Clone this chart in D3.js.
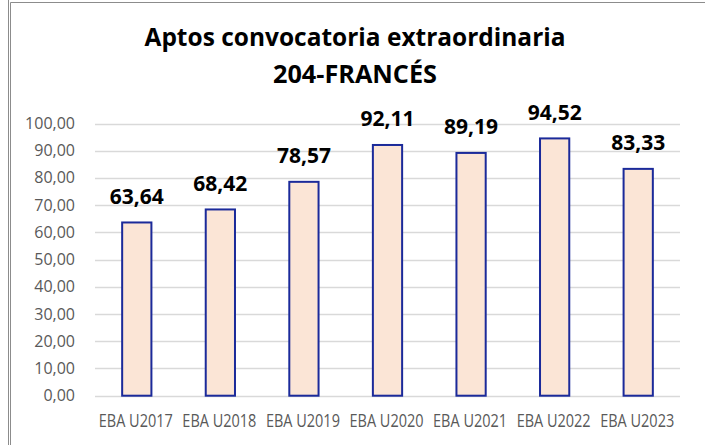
<!DOCTYPE html>
<html>
<head>
<meta charset="utf-8">
<script src="https://cdn.jsdelivr.net/npm/d3@7"></script>
<style>
  body { margin: 0; background: #fff; }
  svg { display: block; font-family: "Open Sans", sans-serif; }
</style>
</head>
<body>
<script>
// datos
var categorias = ["EBA U2017", "EBA U2018", "EBA U2019", "EBA U2020", "EBA U2021", "EBA U2022", "EBA U2023"];
var aptos = [63.64, 68.42, 78.57, 92.11, 89.19, 94.52, 83.33];
var ticksY = [0, 10, 20, 30, 40, 50, 60, 70, 80, 90, 100];
var titulo = ["Aptos convocatoria extraordinaria", "204-FRANCÉS"];

var fmt = function(v) { return d3.format(".2f")(v).replace(".", ","); };

var svg = d3.select("body").append("svg")
  .attr("width", 705).attr("height", 445);

// marco del grafico
svg.append("line").attr("x1", 8.5).attr("x2", 8.5).attr("y1", 0).attr("y2", 445)
  .attr("stroke", "#8c8c8c").attr("stroke-width", 1);
svg.append("path").attr("d", "M10.5,445V2.5H705")
  .attr("fill", "none").attr("stroke", "#8c8c8c").attr("stroke-width", 1);

var x = d3.scaleBand().domain(categorias).range([95, 680]).paddingInner(0.65).paddingOuter(0.325);
var y = d3.scaleLinear().domain([0, 100]).range([395.7, 123.5]);

// lineas de la grilla
svg.selectAll("line.grid")
  .data(ticksY).enter().append("line")
  .attr("class", "grid")
  .attr("x1", 95).attr("x2", 680)
  .attr("y1", d => Math.round(y(d)) + 0.5)
  .attr("y2", d => Math.round(y(d)) + 0.5)
  .attr("stroke", "#d9d9d9").attr("stroke-width", 1.3);

// eje y
svg.selectAll("text.ytick")
  .data(ticksY).enter().append("text")
  .attr("class", "ytick")
  .attr("text-anchor", "end")
  .attr("x", 75)
  .attr("y", d => y(d) + 5.5)
  .attr("fill", "#595959")
  .attr("font-size", 16)
  .text(d => fmt(d));

// barras
svg.selectAll("rect")
  .data(aptos).enter().append("rect")
  .attr("x", (d, i) => x(categorias[i]))
  .attr("y", d => y(d))
  .attr("width", x.bandwidth())
  .attr("height", d => y(0) - y(d))
  .attr("fill", "#fbe5d6")
  .attr("stroke", "#1b2a9a")
  .attr("stroke-width", 2);

// etiquetas de valor
svg.selectAll("text.valor")
  .data(aptos).enter().append("text")
  .attr("class", "valor")
  .attr("text-anchor", "middle")
  .attr("x", (d, i) => x(categorias[i]) + x.bandwidth() / 2)
  .attr("y", d => y(d) - 18.5)
  .attr("font-size", 21)
  .attr("font-weight", "bold")
  .attr("fill", "#000")
  .text(d => fmt(d));

// etiquetas de categoria
svg.selectAll("text.cat")
  .data(categorias).enter().append("text")
  .attr("class", "cat")
  .attr("text-anchor", "middle")
  .attr("x", d => x(d) + x.bandwidth() / 2 - 1)
  .attr("y", 427)
  .attr("font-size", 18)
  .attr("fill", "#595959")
  .attr("textLength", 74)
  .attr("lengthAdjust", "spacingAndGlyphs")
  .text(d => d);

// titulo
svg.selectAll("text.titulo")
  .data(titulo).enter().append("text")
  .attr("class", "titulo")
  .attr("text-anchor", "middle")
  .attr("x", 355)
  .attr("y", (d, i) => 46 + i * 37)
  .attr("font-size", 25)
  .attr("font-weight", "bold")
  .attr("fill", "#000")
  .attr("textLength", (d, i) => i == 0 ? 421 : 164)
  .attr("lengthAdjust", "spacingAndGlyphs")
  .text(d => d);
</script>
</body>
</html>
